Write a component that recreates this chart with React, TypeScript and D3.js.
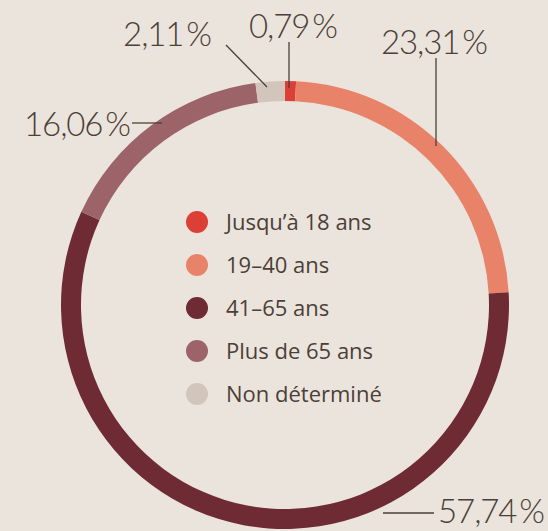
import React from "react";
import * as d3 from "d3";

const categories = ["Jusqu’à 18 ans", "19–40 ans", "41–65 ans", "Plus de 65 ans", "Non déterminé"];
const values = [0.79, 23.31, 57.74, 16.06, 2.11];
const valueLabels = ["0,79\u2009%", "23,31\u2009%", "57,74\u2009%", "16,06\u2009%", "2,11\u2009%"];
const colors = ["#dc3f36", "#e8836a", "#6e2b34", "#9c6468", "#d2c6bc"];

const W = 548;
const H = 531;
const cx = 285;
const cy = 305;
const rOuter = 224;
const rInner = 204;
const textColor = "#4b4037";

// label placements (anchor point of text + leader segment), per category index
const labelPos: Record<number, { tx: number; ty: number; anchor: string; line: [number, number, number, number] }> = {
  0: { tx: 293, ty: 38, anchor: "middle", line: [289, 42, 289, 88] },
  1: { tx: 434, ty: 54, anchor: "middle", line: [436, 58, 436, 146] },
  2: { tx: 544, ty: 523, anchor: "end", line: [383, 513, 434, 513] },
  3: { tx: 130, ty: 136, anchor: "end", line: [132, 123, 162, 123] },
  4: { tx: 211, ty: 46, anchor: "end", line: [226, 45, 267, 87] },
};

export default function App() {
  const pie = d3.pie<number>().sort(null).value((d) => d)(values);
  const arc = d3.arc<d3.PieArcDatum<number>>().innerRadius(rInner).outerRadius(rOuter);
  const legendY = d3.scalePoint<number>().domain(d3.range(categories.length)).range([222, 394]);

  return (
    <svg width={W} height={H} style={{ position: "absolute", left: 0, top: 0, background: "#ebe4dd" }}>
      <rect width={W} height={H} fill="#ebe4dd" />
      <g transform={`translate(${cx},${cy})`}>
        {pie.map((p, i) => (
          <path key={i} d={arc(p) || ""} fill={colors[i]} />
        ))}
      </g>
      {values.map((_, i) => {
        const lp = labelPos[i];
        return (
          <g key={i}>
            <line x1={lp.line[0]} y1={lp.line[1]} x2={lp.line[2]} y2={lp.line[3]} stroke={textColor} strokeWidth={1.3} />
            <text x={lp.tx} y={lp.ty} textAnchor={lp.anchor as any} fontFamily="Lato" fontWeight={300} fontSize={33} letterSpacing={-1.1} fill={textColor}>
              {valueLabels[i]}
            </text>
          </g>
        );
      })}
      {categories.map((c, i) => (
        <g key={c} transform={`translate(0,${legendY(i)})`}>
          <circle cx={197} cy={0} r={11} fill={colors[i]} />
          <text x={226} y={8} fontFamily="Open Sans" fontSize={22} fill={textColor}>
            {c}
          </text>
        </g>
      ))}
    </svg>
  );
}
